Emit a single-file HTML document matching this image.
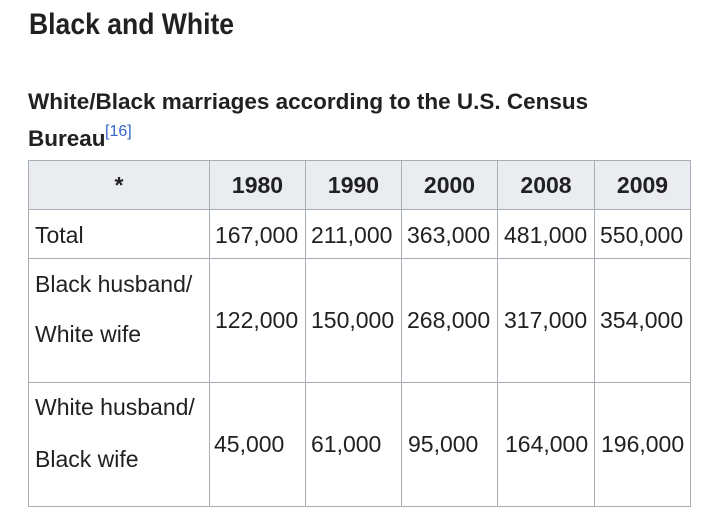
<!DOCTYPE html>
<html><head><meta charset="utf-8">
<style>
html,body{margin:0;padding:0;background:#fff;}
body{width:720px;height:522px;position:relative;overflow:hidden;font-family:"Liberation Sans",Arial,sans-serif;color:#202122;}
.t{position:absolute;white-space:nowrap;}
.h1{font-size:30px;line-height:36px;font-weight:bold;transform:scaleX(0.885);transform-origin:0 0;}
.h3{font-size:22.5px;line-height:30px;font-weight:bold;}
.c{font-size:23px;line-height:30px;}
.b{font-weight:bold;}
.sup{font-size:16px;line-height:20px;color:#3366cc;}
.hl{position:absolute;height:1px;background:#a8aeb5;}
.vl{position:absolute;width:1px;background:#a8aeb5;}
.hdr{position:absolute;left:28px;top:160px;width:663px;height:49px;background:#eaecf0;}
</style></head><body>
<div class="t h1" style="left:29px;top:7px;">Black and White</div>
<div class="t h3" style="left:28px;top:87px;">White/Black marriages according to the U.S. Census</div>
<div class="t h3" style="left:28px;top:124px;">Bureau</div>
<div class="t sup" style="left:105px;top:122px;">[16]</div>

<div class="hdr"></div>
<!-- horizontal lines -->
<div class="hl" style="left:28px;top:160px;width:663px;"></div>
<div class="hl" style="left:28px;top:209px;width:663px;"></div>
<div class="hl" style="left:28px;top:258px;width:663px;"></div>
<div class="hl" style="left:28px;top:382px;width:663px;"></div>
<div class="hl" style="left:28px;top:506px;width:663px;"></div>
<!-- vertical lines -->
<div class="vl" style="left:28px;top:160px;height:347px;"></div>
<div class="vl" style="left:209px;top:160px;height:347px;"></div>
<div class="vl" style="left:305px;top:160px;height:347px;"></div>
<div class="vl" style="left:401px;top:160px;height:347px;"></div>
<div class="vl" style="left:497px;top:160px;height:347px;"></div>
<div class="vl" style="left:594px;top:160px;height:347px;"></div>
<div class="vl" style="left:690px;top:160px;height:347px;"></div>

<!-- header -->
<div class="t c b" style="left:29px;width:180px;text-align:center;top:170px;">*</div>
<div class="t c b" style="left:210px;width:95px;text-align:center;top:170px;">1980</div>
<div class="t c b" style="left:306px;width:95px;text-align:center;top:170px;">1990</div>
<div class="t c b" style="left:402px;width:95px;text-align:center;top:170px;">2000</div>
<div class="t c b" style="left:498px;width:96px;text-align:center;top:170px;">2008</div>
<div class="t c b" style="left:595px;width:95px;text-align:center;top:170px;">2009</div>

<!-- row total -->
<div class="t c" style="left:35px;top:220px;">Total</div>
<div class="t c" style="left:215px;top:220px;">167,000</div>
<div class="t c" style="left:311px;top:220px;">211,000</div>
<div class="t c" style="left:407px;top:220px;">363,000</div>
<div class="t c" style="left:504px;top:220px;">481,000</div>
<div class="t c" style="left:600px;top:220px;">550,000</div>

<!-- row 2 -->
<div class="t c" style="left:35px;top:269px;">Black husband/</div>
<div class="t c" style="left:35px;top:319px;">White wife</div>
<div class="t c" style="left:215px;top:305px;">122,000</div>
<div class="t c" style="left:311px;top:305px;">150,000</div>
<div class="t c" style="left:407px;top:305px;">268,000</div>
<div class="t c" style="left:504px;top:305px;">317,000</div>
<div class="t c" style="left:600px;top:305px;">354,000</div>

<!-- row 3 -->
<div class="t c" style="left:35px;top:392px;">White husband/</div>
<div class="t c" style="left:35px;top:444px;">Black wife</div>
<div class="t c" style="left:214px;top:429px;">45,000</div>
<div class="t c" style="left:311px;top:429px;">61,000</div>
<div class="t c" style="left:408px;top:429px;">95,000</div>
<div class="t c" style="left:505px;top:429px;">164,000</div>
<div class="t c" style="left:601px;top:429px;">196,000</div>
</body></html>
